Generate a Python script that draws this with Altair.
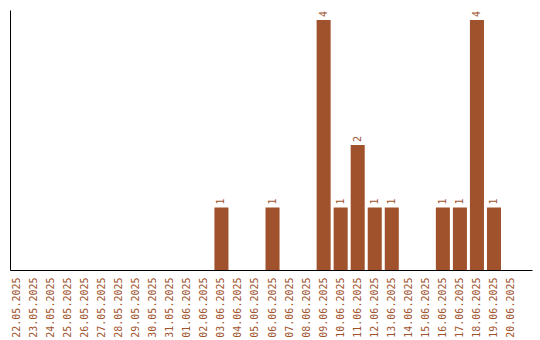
import altair as alt
import pandas as pd

dates = ["22.05.2025", "23.05.2025", "24.05.2025", "25.05.2025", "26.05.2025",
         "27.05.2025", "28.05.2025", "29.05.2025", "30.05.2025", "31.05.2025",
         "01.06.2025", "02.06.2025", "03.06.2025", "04.06.2025", "05.06.2025",
         "06.06.2025", "07.06.2025", "08.06.2025", "09.06.2025", "10.06.2025",
         "11.06.2025", "12.06.2025", "13.06.2025", "14.06.2025", "15.06.2025",
         "16.06.2025", "17.06.2025", "18.06.2025", "19.06.2025", "20.06.2025"]
counts = [0, 0, 0, 0, 0, 0, 0, 0, 0, 0,
          0, 0, 1, 0, 0, 1, 0, 0, 4, 1,
          2, 1, 1, 0, 0, 1, 1, 4, 1, 0]

df = pd.DataFrame({"date": dates, "count": counts})
df["label"] = [str(c) if c > 0 else "" for c in counts]

color = "#a0522d"
font = "DejaVu Sans Mono"

x = alt.X("date:O", sort=dates, title=None,
          scale=alt.Scale(paddingInner=0.176, paddingOuter=0.41, align=0),
          axis=alt.Axis(labelAngle=-90, ticks=False, labelPadding=7,
                        labelColor=color, labelFont=font, labelFontSize=10,
                        domainColor="black", grid=False))
y = alt.Y("count:Q", title=None,
          scale=alt.Scale(domain=[0, 4.16], nice=False),
          axis=alt.Axis(labels=False, ticks=False, grid=False, domainColor="black"))

bars = alt.Chart(df).mark_bar(color=color).encode(x=x, y=y)
text = alt.Chart(df).mark_text(angle=270, align="left", baseline="middle", dx=3,
                               color=color, font=font, fontSize=10).encode(
    x=alt.X("date:O", sort=dates), y="count:Q", text="label:N")

chart = (bars + text).properties(
    width=522, height=260,
    background="white",
    autosize=alt.AutoSizeParams(type="none"),
    padding={"left": 10, "top": 10, "right": 8, "bottom": 70},
).configure_view(stroke=None)

chart.save("out.html", embed_options={"renderer": "svg", "actions": False})
